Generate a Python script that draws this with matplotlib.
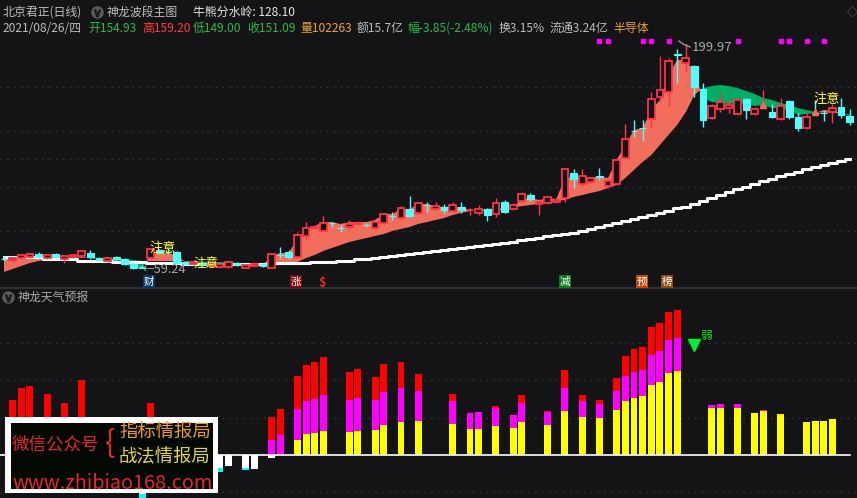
import numpy as np
import matplotlib
matplotlib.use("Agg")
import matplotlib.pyplot as plt
from matplotlib.patches import Rectangle

plt.rcParams['font.family'] = ['Noto Sans CJK SC', 'DejaVu Sans']

BG = '#141416'
UP = '#ff3346'
DOWN = '#55fcfc'
BULL = '#f26e5c'
BEAR = '#00ad62'
GRID = '#3a3a3a'

# daily candles, price units
opens = [65.8, 64.9, 66.1, 66.7, 68.6, 66.1, 68.6, 65.5, 66.7, 67.4,
         69.2, 66.1, 64.2, 66.7, 65.5, 62.4, 60.5, 66.1, 71.1, 70.0,
         69.9, 63.6, 62.4, 63.0, 61.1, 60.5, 60.5, 63.0, 59.9, 61.1,
         62.4, 59.9, 68.3, 69.9, 66.7, 79.9, 84.9, 83.0, 88.2, 85.1,
         85.5, 87.6, 87.0, 84.9, 88.0, 92.6, 91.1, 96.8, 94.3, 99.5,
         96.8, 98.0, 95.5, 98.0, 96.0, 94.3, 96.8, 93.6, 101.1, 96.8,
         101.8, 105.5, 99.9, 100.5, 101.1, 103.6, 119.3, 112.4, 113.7, 117.1,
         111.2, 112.4, 128.7, 145.8, 147.6, 153.1, 166.8, 169.9, 193.9, 188.1,
         186.2, 171.8, 153.7, 159.3, 159.9, 156.2, 165.6, 156.2, 161.0, 157.4,
         153.1, 164.3, 154.3, 147.4, 156.9, 156.9, 157.4, 160.6, 154.93]
highs = [67.4, 66.7, 68.6, 69.2, 69.9, 68.6, 69.2, 68.0, 68.6, 71.1,
         71.1, 66.7, 66.7, 67.4, 66.1, 63.6, 61.7, 72.4, 71.7, 71.7,
         70.5, 64.2, 64.9, 63.6, 63.0, 63.0, 64.2, 63.6, 62.4, 63.0,
         63.0, 69.2, 73.0, 71.1, 82.4, 88.6, 86.8, 92.4, 88.6, 86.8,
         89.9, 89.3, 88.0, 89.3, 94.3, 94.9, 98.6, 104.9, 101.1, 101.1,
         101.1, 99.9, 101.1, 101.1, 97.4, 99.3, 97.4, 103.6, 102.4, 100.5,
         107.4, 106.8, 102.4, 104.9, 103.0, 122.4, 121.8, 121.8, 116.8, 122.4,
         114.9, 128.7, 149.9, 152.4, 152.4, 169.9, 192.5, 191.2, 197.0, 199.97,
         186.8, 175.6, 162.4, 169.9, 164.9, 165.6, 166.2, 160.6, 171.2, 162.4,
         166.2, 164.9, 156.8, 156.8, 164.9, 158.7, 162.4, 166.2, 159.20]
lows = [64.2, 63.6, 65.5, 66.1, 66.1, 65.5, 66.1, 63.0, 66.1, 66.7,
        65.5, 64.2, 63.6, 64.9, 61.7, 59.24, 59.6, 65.5, 68.6, 68.6,
        62.4, 61.7, 61.7, 61.1, 60.5, 59.9, 59.9, 61.1, 59.6, 60.5,
        60.5, 59.6, 66.1, 65.5, 66.1, 77.4, 84.3, 82.4, 85.5, 82.4,
        83.6, 86.8, 85.5, 84.3, 87.4, 89.9, 90.5, 91.8, 93.6, 94.9,
        96.1, 94.3, 94.9, 94.3, 93.0, 93.0, 89.3, 91.8, 94.3, 96.1,
        100.5, 101.8, 93.0, 99.9, 100.5, 101.1, 109.9, 111.2, 113.0, 114.9,
        109.9, 111.8, 128.0, 141.8, 139.3, 148.1, 163.7, 160.6, 175.6, 182.5,
        166.8, 148.1, 153.1, 157.4, 156.8, 155.6, 153.1, 155.6, 159.9, 153.7,
        152.4, 153.1, 145.6, 146.8, 155.6, 151.8, 150.6, 153.7, 149.00]
closes = [65.5, 66.1, 68.0, 68.6, 66.7, 68.0, 66.7, 67.4, 68.0, 70.5,
          66.7, 64.9, 66.1, 65.5, 62.4, 59.9, 60.0, 71.7, 69.2, 69.6,
          63.0, 62.4, 63.6, 61.7, 62.4, 62.4, 63.6, 61.7, 61.7, 62.4,
          61.1, 68.6, 67.9, 66.7, 80.5, 84.9, 85.8, 88.0, 87.8, 84.7,
          87.4, 88.2, 86.6, 88.6, 93.6, 92.2, 97.4, 92.4, 100.5, 99.1,
          98.6, 96.1, 99.3, 96.1, 96.4, 96.8, 93.0, 100.5, 94.9, 99.3,
          106.1, 103.0, 101.1, 104.3, 102.4, 121.8, 115.5, 117.4, 116.2, 116.6,
          114.3, 127.4, 140.6, 145.4, 147.2, 165.6, 171.2, 189.3, 193.4, 191.2,
          173.1, 152.4, 161.2, 163.7, 161.8, 164.9, 158.7, 159.3, 161.4, 154.3,
          161.2, 154.3, 147.4, 154.3, 156.6, 156.5, 159.9, 155.6, 151.09]

# band of the main indicator: fast line and slow line
fast_line = [66.1, 66.1, 66.1, 66.1, 66.1, 66.1, 66.7, 66.1, 66.1, 66.7,
             66.1, 64.9, 64.2, 63.6, 62.4, 60.5, 59.2, 68.6, 69.2, 69.2,
             68.0, 63.6, 63.0, 62.4, 61.7, 61.7, 62.4, 61.7, 61.1, 61.7,
             61.7, 67.4, 69.2, 69.2, 78.6, 83.6, 86.1, 88.6, 88.6, 87.4,
             88.6, 88.6, 88.6, 89.9, 93.6, 93.6, 96.8, 96.8, 99.9, 99.9,
             98.6, 98.0, 98.6, 97.4, 96.1, 95.5, 94.9, 96.1, 96.1, 98.0,
             103.0, 103.6, 102.4, 103.6, 103.0, 116.2, 116.8, 116.2, 116.8, 116.8,
             116.2, 127.4, 136.8, 146.2, 147.4, 158.7, 164.9, 180.6, 190.0, 190.0,
             182.5, 166.2, 163.7, 163.1, 162.4, 163.1, 162.4, 161.2, 161.8, 159.9,
             159.9, 158.7, 155.6, 156.2, 156.8, 158.7, 158.1, 156.8, 154.9]
slow_line = [57.4, 59.2, 61.1, 63.0, 64.2, 64.9, 65.5, 65.5, 65.8, 66.1,
             66.4, 66.1, 66.1, 65.8, 65.5, 64.9, 64.2, 64.2, 64.2, 64.2,
             64.2, 64.2, 64.2, 63.9, 63.6, 63.6, 63.3, 63.0, 63.0, 63.0,
             63.0, 62.4, 62.4, 62.4, 63.6, 66.1, 68.0, 70.5, 72.4, 74.2,
             76.1, 77.4, 78.6, 79.9, 81.1, 83.0, 84.3, 85.5, 87.4, 88.6,
             89.9, 91.1, 93.0, 94.3, 95.5, 96.1, 96.8, 97.1, 97.4, 97.7,
             98.6, 99.3, 99.9, 100.5, 101.8, 102.4, 104.3, 105.5, 106.8, 108.0,
             109.9, 111.8, 116.2, 121.2, 126.2, 130.5, 136.8, 143.1, 149.3, 157.4,
             168.1, 172.4, 173.7, 174.3, 173.7, 172.4, 170.6, 168.7, 166.2, 164.9,
             163.1, 161.8, 159.9, 158.7, 157.4, 157.1, 156.8, 156.5, 156.2]
# 牛熊分水岭 (white step line)
bull_bear = [66.7] * 5 + [65.5] * 4 + [64.2] * 4 + [63.6] * 4 + [63.0] * 4 + \
            [62.4] * 10 + [63.0] * 5 + [63.6] * 3 + [64.2] * 2 + [65.2] * 2 + \
            [66.1, 66.7, 67.4, 68.0, 68.6, 69.2, 69.9, 70.5, 71.1, 71.7,
             72.4, 73.0, 73.6, 74.2, 74.9, 75.5, 76.1, 77.1, 78.0, 78.6,
             79.6, 80.5, 81.1, 81.7, 83.0, 84.3, 85.5, 86.8, 88.0, 89.3,
             90.5, 91.8, 93.0, 94.3, 95.8, 97.4, 98.3, 100.2, 102.0, 103.9,
             105.8, 107.7, 109.3, 110.8, 112.4, 114.0, 115.5, 117.1, 118.7, 120.2,
             121.5, 123.0, 124.3, 125.5, 126.8, 128.1]
price_grid = [173.1, 145.6, 128.0, 110.5, 83.0]
signal_dots = [69, 70, 74, 75, 77, 85, 90, 91, 93, 95]
small_tri = {88: 161.8, 94: 157.4}

# 神龙天气预报: stacked levels (bar index -> level)
red_lvl = {1: 14.7, 2: 18.0, 3: 18.5, 5: 16.4, 7: 13.9, 9: 20.1, 17: 13.9,
           31: 10.2, 32: 12.3, 34: 21.2, 35: 24.1, 36: 24.9, 37: 26.3, 40: 22.3,
           41: 23.1, 43: 20.9, 44: 24.4, 46: 24.9, 48: 21.7, 52: 16.4, 57: 13.1,
           60: 16.1, 63: 11.8, 65: 22.8, 67: 16.1, 69: 14.7, 71: 20.6, 72: 26.5,
           73: 28.4, 74: 29.0, 75: 34.3, 76: 35.4, 77: 38.3, 78: 38.9}
mag_lvl = {31: 4.0, 32: 5.4, 34: 12.3, 35: 14.5, 36: 15.0, 37: 16.1, 40: 14.7,
           41: 15.3, 43: 14.7, 44: 16.9, 46: 18.0, 48: 17.2, 52: 14.5, 54: 11.3,
           55: 11.5, 57: 12.6, 59: 10.7, 60: 13.9, 63: 11.5, 65: 18.0, 67: 14.5,
           69: 13.7, 71: 17.2, 72: 21.2, 73: 22.3, 74: 22.8, 75: 26.8, 76: 27.9,
           77: 30.8, 78: 31.4, 82: 13.4, 83: 13.7, 85: 13.7, 88: 12.1}
yel_lvl = {34: 4.0, 35: 5.6, 36: 5.9, 37: 6.4, 40: 6.2, 41: 6.4, 43: 6.7,
           44: 8.0, 46: 8.8, 48: 9.1, 52: 8.3, 54: 7.0, 55: 7.0, 57: 7.8, 59: 7.2,
           60: 8.8, 63: 8.0, 65: 11.8, 67: 10.2, 69: 9.9, 71: 12.1, 72: 14.5,
           73: 15.3, 74: 15.8, 75: 18.8, 76: 19.6, 77: 22.0, 78: 22.5, 82: 12.6,
           83: 12.6, 85: 12.6, 87: 11.3, 88: 11.8, 90: 11.0, 93: 8.8, 94: 9.1,
           95: 9.1, 96: 9.7}
neg_white = {14: -3.0, 15: -6.0, 16: -10.5, 25: -3.5, 26: -2.9, 28: -3.5,
             29: -3.8, 31: -0.8}
neg_cyan = {16: -12.5, 25: -4.6, 28: -4.0}
weak_bar, weak_level = 80, 29.5
low_grid = [30, 20, 10, -10]

W, H = 857, 498
SLOT = 8.63
fig = plt.figure(figsize=(W / 100, H / 100), dpi=100, facecolor=BG)
ax = fig.add_axes([0, 1 - 288 / H, 1, 288 / H])
ax2 = fig.add_axes([0, 0, 1, 1 - 288 / H])
xlim = (-4 / SLOT, (W - 4) / SLOT)
for a in (ax, ax2):
    a.set_xlim(*xlim)
    a.set_axis_off()
ax.set_ylim(47.35, 227.49)
ax2.set_ylim(-11.53, 44.77)

n = len(closes)
x = np.arange(n)
fast = np.array(fast_line)
slow = np.array(slow_line)

for lv in price_grid:
    ax.axhline(lv, color=GRID, lw=1, ls=(0, (1, 4)), zorder=0)
ax.fill_between(x, fast, slow, where=fast >= slow, interpolate=True, color=BULL, lw=0, zorder=1)
ax.fill_between(x, fast, slow, where=fast < slow, interpolate=True, color=BEAR, lw=0, zorder=1)
ax.plot(x, bull_bear, color='white', lw=2.2, drawstyle='steps-mid', zorder=2)

bw = 0.78
for i in range(n):
    o, h, l, c = opens[i], highs[i], lows[i], closes[i]
    if c >= o:
        ax.vlines(i, c, h, color=UP, lw=1, zorder=3)
        ax.vlines(i, l, o, color=UP, lw=1, zorder=3)
        ax.add_patch(Rectangle((i - bw / 2, o), bw, max(c - o, 0.2), facecolor=BG,
                               edgecolor=UP, lw=1.3, zorder=4))
    else:
        ax.vlines(i, l, h, color=DOWN, lw=1, zorder=3)
        ax.add_patch(Rectangle((i - bw / 2, c), bw, o - c, facecolor=DOWN,
                               edgecolor=DOWN, lw=0.8, zorder=4))

ax.plot(signal_dots, [202] * len(signal_dots), 's', color='#ff00ff', ms=2.2, zorder=5)
ax.plot(list(small_tri), list(small_tri.values()), '^', color=BULL, ms=5, zorder=5)

# lower panel
for lv in low_grid:
    ax2.axhline(lv, color=GRID, lw=1, ls=(0, (1, 4)), zorder=0)
for lvls, col in ((red_lvl, '#ff0000'), (mag_lvl, '#ff00ff'), (yel_lvl, '#ffff00'),
                  (neg_cyan, '#00ffff'), (neg_white, '#ffffff')):
    ax2.bar(list(lvls), list(lvls.values()), width=0.8, color=col, lw=0, zorder=2)
ax2.plot([xlim[0], n - 1], [0, 0], color='white', lw=1.2, zorder=3)
ax2.plot(weak_bar, weak_level, 'v', color='#00ee33', ms=9, zorder=4)

# overlay in pixel coordinates for texts and the watermark
ov = fig.add_axes([0, 0, 1, 1], zorder=10)
ov.set_xlim(0, W)
ov.set_ylim(H, 0)
ov.set_axis_off()
ov.plot([0, W], [288, 288], color='#2c2f36', lw=1.6)

GRAY = '#bdbdbd'
GREEN_T = '#2fb84a'
RED_T = '#ff3b3b'
ORANGE_T = '#e8a33a'
fs = 8.6


def t(xp, yp, s, c=GRAY, size=fs, **kw):
    ov.text(xp, yp, s, color=c, fontsize=size, ha=kw.pop('ha', 'left'), va='center', **kw)


def chevron(xp, yp):
    ov.plot(xp, yp, 'o', color='#5c5c5c', ms=8)
    ov.plot(xp, yp + 0.5, marker=r'$\vee$', color='#1c1c1c', ms=5)


t(3, 12, '北京君正(日线)')
chevron(97, 12)
t(107, 12, '神龙波段主图')
t(193, 12, '牛熊分水岭: 128.10', c='#e6e6e6')
t(852, 12, '◇', c='#707070', ha='center', size=8)
t(3, 28, '2021/08/26/四')
t(88, 28, '开154.93', c=GREEN_T)
t(142, 28, '高159.20', c=RED_T)
t(193, 28, '低149.00', c=GREEN_T)
t(247, 28, '收151.09', c=GREEN_T)
t(300, 28, '量102263', c=ORANGE_T)
t(357, 28, '额15.7亿')
t(407, 28, '幅-3.85(-2.48%)', c=GREEN_T)
t(499, 28, '换3.15%')
t(550, 28, '流通3.24亿')
t(613, 28, '半导体', c=ORANGE_T)

chevron(8, 297)
t(18, 297, '神龙天气预报', c='#a8a8a8')

# chart annotations
t(163, 248, '注意', c='#ffff33', ha='center', size=9.5)
t(206, 264, '注意', c='#ffff33', ha='center', size=9)
t(827, 99, '注意', c='#ffff33', ha='center', size=9.5)
t(142, 269.5, '←59.24', c='#a9a9a9', size=9.2)
ov.plot([679, 683, 690], [41, 44, 47], color='#a9a9a9', lw=0.9)
t(692, 47, '199.97', c='#a9a9a9', size=9.5)
t(706, 335, '弱', c='#22dd22', ha='center', size=8.5)

for xp, ch, col in ((149, '财', '#0d3a66'), (296, '涨', '#7a0c10'),
                    (565, '减', '#0c7a1c'), (642, '预', '#c0480a'), (667, '榜', '#8c4a12')):
    ov.text(xp, 281.5, ch, color='white', fontsize=7.6, ha='center', va='center',
            bbox=dict(boxstyle='square,pad=0.1', fc=col, ec='none'))
ov.text(322, 282, '$', color='#ff2020', fontsize=9, ha='center', va='center', fontweight='bold')

# watermark box
ov.add_patch(Rectangle((5, 417), 213, 76, facecolor='white', edgecolor='none'))
ov.add_patch(Rectangle((11, 423), 202, 66, facecolor='#020802', edgecolor='none'))
t(12, 444, '微信公众号', c='#e8262a', size=12.6)
t(110, 443, '{', c='#e8262a', ha='center', size=22, fontweight='light')
t(119, 432, '指标情报局', c='#e89a2a', size=13.2)
t(119, 457, '战法情报局', c='#e6d24a', size=13.2)
t(12, 483, 'www.zhibiao168.com', c='#e8262a', size=14.3)

fig.savefig('out.png', dpi=100, facecolor=BG)
